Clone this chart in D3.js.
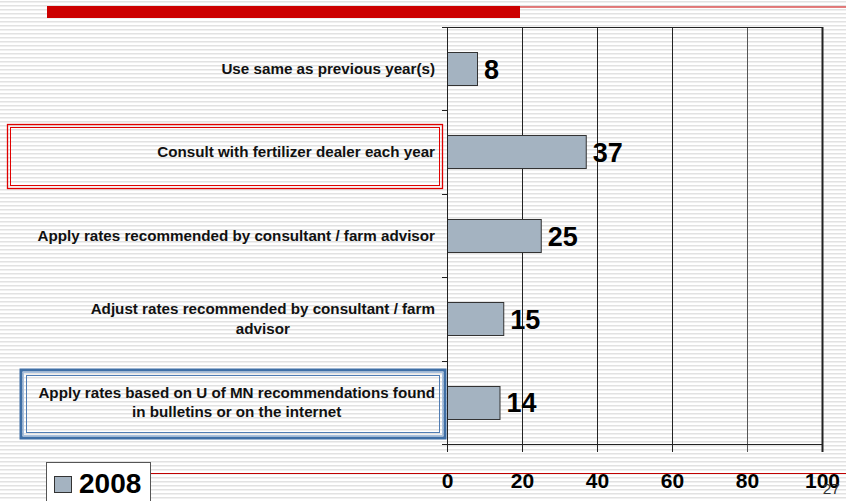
<!DOCTYPE html>
<html>
<head>
<style>
  body { margin: 0; background: #fff; }
  svg { display: block; font-family: "Liberation Sans", Arial, sans-serif; }
</style>
</head>
<body>
<script src="https://d3js.org/d3.v7.min.js"></script>
<script>

const width = 846;
const height = 501;

const categories = [
  'Use same as previous year(s)',
  'Consult with fertilizer dealer each year',
  'Apply rates recommended by consultant / farm advisor',
  'Adjust rates recommended by consultant / farm advisor',
  'Apply rates based on U of MN recommendations found in bulletins or on the internet'
];
const labelLines = [
  ['Use same as previous year(s)'],
  ['Consult with fertilizer dealer each year'],
  ['Apply rates recommended by consultant / farm advisor'],
  ['Adjust rates recommended by consultant / farm', 'advisor'],
  ['Apply rates based on U of MN recommendations found', 'in bulletins or on the internet']
];
const values2008 = [8, 37, 25, 15, 14];
const xTicks = [0, 20, 40, 60, 80, 100];
const seriesName = '2008';
const pageNumber = '27';

const svg = d3.select('body')
  .append('svg')
  .attr('width', width)
  .attr('height', height);

// striped slide background
const defs = svg.append('defs');
const pat = defs.append('pattern')
  .attr('id', 'stripes')
  .attr('patternUnits', 'userSpaceOnUse')
  .attr('width', 8)
  .attr('height', 4);
pat.append('rect').attr('width', 8).attr('height', 4).attr('fill', '#fff');
pat.append('rect').attr('y', 1).attr('width', 8).attr('height', 1.5).attr('fill', '#e2e2e2');

svg.append('rect')
  .attr('width', width)
  .attr('height', height)
  .attr('fill', 'url(#stripes)');

// slide title bar
svg.append('rect')
  .attr('x', 47).attr('y', 6)
  .attr('width', 473).attr('height', 12)
  .attr('fill', '#cc0000');
svg.append('line')
  .attr('x1', 520).attr('x2', width)
  .attr('y1', 7).attr('y2', 7)
  .attr('stroke', '#cc0000').attr('stroke-width', 1);

// bottom rule
svg.append('line')
  .attr('x1', 150).attr('x2', width)
  .attr('y1', 473.5).attr('y2', 473.5)
  .attr('stroke', '#c00000').attr('stroke-width', 1);

const x = d3.scaleLinear().domain([0, 100]).range([447, 822]);
const y = d3.scaleBand()
  .domain(categories)
  .range([27, 444])
  .paddingInner(0.6)
  .paddingOuter(0.3);

const plotTop = 27, plotBottom = 444;

// grid lines + bottom ticks
svg.append('g')
  .selectAll('line')
  .data(xTicks)
  .join('line')
  .attr('x1', d => x(d) + 0.5)
  .attr('x2', d => x(d) + 0.5)
  .attr('y1', plotTop)
  .attr('y2', plotBottom + 8)
  .attr('stroke', (d, i) => i === 4 ? '#555' : '#222')
  .attr('stroke-width', d => d === 100 ? 2 : 1);

// frame top / bottom
svg.append('line')
  .attr('x1', 442).attr('x2', 823)
  .attr('y1', plotTop + 0.5).attr('y2', plotTop + 0.5)
  .attr('stroke', '#222');
svg.append('line')
  .attr('x1', 442).attr('x2', 823)
  .attr('y1', plotBottom + 0.5).attr('y2', plotBottom + 0.5)
  .attr('stroke', '#222');

// category ticks on the left axis
const step = y.step();
svg.append('g')
  .selectAll('line')
  .data(categories.slice(1))
  .join('line')
  .attr('x1', 442).attr('x2', 447)
  .attr('y1', (d, i) => Math.round(plotTop + (i + 1) * step) + 0.5)
  .attr('y2', (d, i) => Math.round(plotTop + (i + 1) * step) + 0.5)
  .attr('stroke', '#222');

// bars
svg.append('g')
  .selectAll('rect')
  .data(values2008)
  .join('rect')
  .attr('x', x(0) + 0.5)
  .attr('y', (d, i) => Math.round(y(categories[i])) + 0.5)
  .attr('width', d => x(d) - x(0))
  .attr('height', Math.round(y.bandwidth()))
  .attr('fill', '#a4b3c1')
  .attr('stroke', '#333')
  .attr('stroke-width', 1);

// value labels
svg.append('g')
  .selectAll('text')
  .data(values2008)
  .join('text')
  .attr('x', d => x(d) + 7)
  .attr('y', (d, i) => y(categories[i]) + y.bandwidth() / 2 + 10)
  .attr('font-size', 27)
  .attr('font-weight', 'bold')
  .attr('fill', '#000')
  .text(d => d);

// left axis line
svg.append('line')
  .attr('x1', 447.5).attr('x2', 447.5)
  .attr('y1', plotTop).attr('y2', plotBottom + 8)
  .attr('stroke', '#222');

// category labels: block right-aligned at 435, lines centred inside block
const labelG = svg.append('g');
labelLines.forEach((lines, i) => {
  const cy = y(categories[i]) + y.bandwidth() / 2;
  const lh = 19.5;
  const g = labelG.append('g');
  const texts = lines.map((ln, j) => g.append('text')
    .attr('y', cy + (j - (lines.length - 1) / 2) * lh + 5)
    .attr('font-size', 15.2)
    .attr('font-weight', 'bold')
    .attr('fill', '#111')
    .attr('text-anchor', 'middle')
    .text(ln));
  const w = d3.max(texts, t => t.node().getComputedTextLength());
  texts.forEach(t => t.attr('x', 435 - w / 2));
});

// highlight boxes
const redBox = svg.append('g').attr('fill', 'none').attr('stroke', '#e00000');
redBox.append('rect').attr('x', 7.5).attr('y', 124.5).attr('width', 435).attr('height', 64).attr('stroke-width', 1.3);
redBox.append('rect').attr('x', 10.5).attr('y', 127.5).attr('width', 429).attr('height', 58).attr('stroke-width', 1);

const blueBox = svg.append('g').attr('fill', 'none');
blueBox.append('rect').attr('x', 21).attr('y', 370).attr('width', 424).attr('height', 68)
  .attr('stroke', '#3f6fa6').attr('stroke-width', 3);
blueBox.append('rect').attr('x', 23.5).attr('y', 372.5).attr('width', 419).attr('height', 63)
  .attr('stroke', '#a9c1de').attr('stroke-width', 1);
blueBox.append('rect').attr('x', 26.5).attr('y', 375.5).attr('width', 413).attr('height', 57)
  .attr('stroke', '#4f7cb3').attr('stroke-width', 1);

// x tick labels
svg.append('g')
  .selectAll('text')
  .data(xTicks)
  .join('text')
  .attr('x', d => x(d) + 0.5)
  .attr('y', 488)
  .attr('text-anchor', 'middle')
  .attr('font-size', 21)
  .attr('font-weight', 'bold')
  .attr('fill', '#000')
  .text(d => d);

// legend
const legend = svg.append('g');
legend.append('rect')
  .attr('x', 46.5).attr('y', 462.5)
  .attr('width', 104).attr('height', 50)
  .attr('fill', '#fff').attr('stroke', '#555');
legend.append('rect')
  .attr('x', 54.5).attr('y', 476.5)
  .attr('width', 17).attr('height', 16)
  .attr('fill', '#a4b3c1').attr('stroke', '#333');
legend.append('text')
  .attr('x', 79).attr('y', 493)
  .attr('font-size', 28)
  .attr('font-weight', 'bold')
  .attr('fill', '#000')
  .text(seriesName);

// page number
svg.append('text')
  .attr('x', 840).attr('y', 494)
  .attr('text-anchor', 'end')
  .attr('font-size', 15.5)
  .attr('fill', '#333')
  .text(pageNumber);

</script>
</body>
</html>
